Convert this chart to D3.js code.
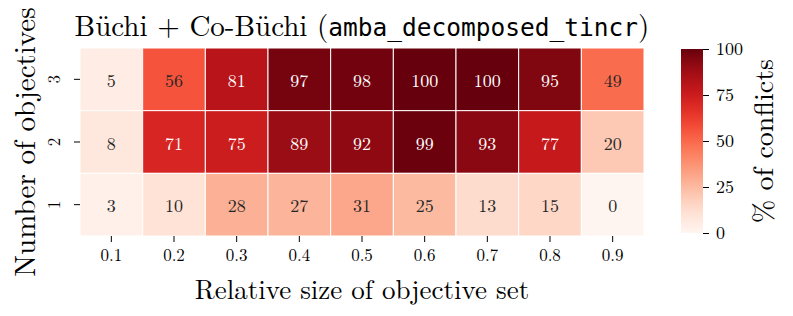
<!DOCTYPE html>
<html>
<head>
<meta charset="utf-8">
<script src="https://cdn.jsdelivr.net/npm/d3@7"></script>
<style>
	body { margin: 0; background: #fff; }
	text { font-family: "Latin Modern Roman", "DejaVu Serif", serif; fill: #000; }
	.mono { font-family: "DejaVu Sans Mono", "Liberation Mono", monospace; }
</style>
</head>
<body>
<div id="chart"></div>
<script>
const sizes = ["0.1", "0.2", "0.3", "0.4", "0.5", "0.6", "0.7", "0.8", "0.9"];
const objectives = ["3", "2", "1"];
const conflicts3 = [5, 56, 81, 97, 98, 100, 100, 95, 49];
const conflicts2 = [8, 71, 75, 89, 92, 99, 93, 77, 20];
const conflicts1 = [3, 10, 28, 27, 31, 25, 13, 15, 0];
const colorTicks = [0, 25, 50, 75, 100];

const rows = { "3": conflicts3, "2": conflicts2, "1": conflicts1 };

let width = 793, height = 316;
let margin = { left: 80, right: 149, top: 48, bottom: 80 };
let serif = "\"Latin Modern Roman\", \"DejaVu Serif\", serif";

let svg = d3.select("#chart").append("svg")
	.attr("width", width)
	.attr("height", height);

let x = d3.scaleBand().domain(sizes).range([margin.left, width - margin.right]);
let y = d3.scaleBand().domain(objectives).range([margin.top, height - margin.bottom]);
let color = d3.scaleSequential(d3.interpolateReds).domain([0, 100]);

// cells
let cells = [];
objectives.forEach(o => {
	rows[o].forEach((v, i) => cells.push({ o: o, s: sizes[i], v: v }));
});

svg.append("g").selectAll("rect")
	.data(cells)
	.enter().append("rect")
	.attr("x", d => x(d.s))
	.attr("y", d => y(d.o))
	.attr("width", x.bandwidth())
	.attr("height", y.bandwidth())
	.style("fill", d => color(d.v))
	.style("stroke", "#fff")
	.style("stroke-width", 1);

svg.append("g").selectAll("text")
	.data(cells)
	.enter().append("text")
	.attr("x", d => x(d.s) + x.bandwidth() / 2)
	.attr("y", d => y(d.o) + y.bandwidth() / 2)
	.attr("text-anchor", "middle")
	.attr("dominant-baseline", "central")
	.style("font-size", "18px")
	.style("fill", d => {
		let c = d3.rgb(color(d.v));
		let lum = 0.2126 * c.r + 0.7152 * c.g + 0.0722 * c.b;
		return lum < 0.408 * 255 ? "#fff" : "#262626";
	})
	.text(d => d.v);

// axes
let xAxis = svg.append("g")
	.attr("transform", `translate(0,${height - margin.bottom})`)
	.call(d3.axisBottom(x).tickSize(6).tickPadding(7));
xAxis.select(".domain").remove();
xAxis.selectAll("text").style("font-size", "17px").style("font-family", serif);

let yAxis = svg.append("g")
	.attr("transform", `translate(${margin.left},0)`)
	.call(d3.axisLeft(y).tickSize(6).tickPadding(0));
yAxis.select(".domain").remove();
yAxis.selectAll("text")
	.style("font-size", "17px")
	.style("font-family", serif)
	.attr("text-anchor", "middle")
	.attr("dy", null)
	.attr("x", null)
	.attr("transform", "translate(-27,0) rotate(-90)")
	.attr("dominant-baseline", "central");

// title
let title = svg.append("text")
	.attr("x", (margin.left + width - margin.right) / 2)
	.attr("y", 36)
	.attr("text-anchor", "middle")
	.style("font-size", "29px");
title.append("tspan").text("Büchi + Co-Büchi (");
title.append("tspan").attr("class", "mono").style("font-size", "24.5px").text("amba_decomposed_tincr");
title.append("tspan").text(")");

svg.append("text")
	.attr("x", (margin.left + width - margin.right) / 2)
	.attr("y", 299)
	.attr("text-anchor", "middle")
	.style("font-size", "27px")
	.text("Relative size of objective set");

svg.append("text")
	.attr("transform", `translate(35,${(margin.top + height - margin.bottom) / 2}) rotate(-90)`)
	.attr("text-anchor", "middle")
	.style("font-size", "29px")
	.text("Number of objectives");

// colorbar
let cbX = 681, cbW = 22, cbTop = 49, cbBottom = 233;
let defs = svg.append("defs");
let grad = defs.append("linearGradient")
	.attr("id", "cbar")
	.attr("x1", 0).attr("y1", 1).attr("x2", 0).attr("y2", 0);
d3.range(0, 101, 5).forEach(t => {
	grad.append("stop").attr("offset", t + "%").attr("stop-color", color(t));
});
svg.append("rect")
	.attr("x", cbX).attr("y", cbTop)
	.attr("width", cbW).attr("height", cbBottom - cbTop)
	.style("fill", "url(#cbar)");

let cbScale = d3.scaleLinear().domain([0, 100]).range([cbBottom, cbTop]);
let cbAxis = svg.append("g")
	.attr("transform", `translate(${cbX + cbW},0)`)
	.call(d3.axisRight(cbScale).tickValues(colorTicks).tickSize(6).tickPadding(7));
cbAxis.select(".domain").remove();
cbAxis.selectAll("text").style("font-size", "18px").style("font-family", serif);

svg.append("text")
	.attr("transform", `translate(773,${(cbTop + cbBottom) / 2}) rotate(-90)`)
	.attr("text-anchor", "middle")
	.style("font-size", "28px")
	.text("% of conflicts");
</script>
</body>
</html>
